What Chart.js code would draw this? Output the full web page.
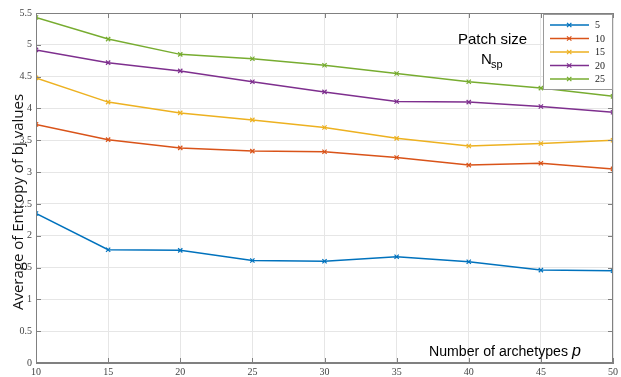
<!DOCTYPE html>
<html>
<head>
<meta charset="utf-8">
<script src="https://cdn.jsdelivr.net/npm/chart.js@4"></script>
<style>
  html, body { margin: 0; padding: 0; background: #fff; }
  #wrap { width: 621px; height: 377px; }
</style>
</head>
<body>
<div id="wrap"><canvas id="chartEntropy"></canvas></div>
<script>
// data
var archetypes = [10, 15, 20, 25, 30, 35, 40, 45, 50];
var patchSizes = ['5', '10', '15', '20', '25'];
var entropy5  = [2.35, 1.78, 1.77, 1.61, 1.60, 1.67, 1.59, 1.46, 1.45];
var entropy10 = [3.75, 3.51, 3.38, 3.33, 3.32, 3.23, 3.11, 3.14, 3.05];
var entropy15 = [4.48, 4.10, 3.93, 3.82, 3.70, 3.53, 3.41, 3.45, 3.50];
var entropy20 = [4.92, 4.72, 4.59, 4.42, 4.26, 4.11, 4.10, 4.03, 3.94];
var entropy25 = [5.43, 5.09, 4.85, 4.78, 4.68, 4.55, 4.42, 4.32, 4.19];
var lineColors = ['#0072BD', '#D95319', '#EDB120', '#7E2F8E', '#77AC30'];

var allSeries = [entropy5, entropy10, entropy15, entropy20, entropy25];

function toPoints(vals) {
    return vals.map(function (v, i) { return { x: archetypes[i], y: v }; });
}

var datasets = allSeries.map(function (vals, i) {
    return {
        label: patchSizes[i],
        data: toPoints(vals),
        borderColor: lineColors[i],
        backgroundColor: lineColors[i],
        borderWidth: 1.5,
        pointStyle: 'crossRot',
        pointRadius: 3,
        pointBorderWidth: 1.2,
        tension: 0
    };
});

// box, inward ticks, legend and labels drawn like the matlab figure
var figurePlugin = {
    id: 'figure',
    afterDatasetsDraw: function (chart) {
        var ctx = chart.ctx;
        var a = chart.chartArea;
        var xs = chart.scales.x, ys = chart.scales.y;
        ctx.save();

        // axes box
        ctx.strokeStyle = '#808080';
        ctx.lineWidth = 1;
        ctx.strokeRect(a.left + 0.5, a.top + 0.5, a.right - a.left - 1, a.bottom - a.top - 1);

        // inward tick marks
        ctx.beginPath();
        ys.ticks.forEach(function (t) {
            var py = Math.round(ys.getPixelForValue(t.value)) + 0.5;
            ctx.moveTo(a.left, py); ctx.lineTo(a.left + 5, py);
            ctx.moveTo(a.right, py); ctx.lineTo(a.right - 5, py);
        });
        xs.ticks.forEach(function (t) {
            var px = Math.round(xs.getPixelForValue(t.value)) + 0.5;
            ctx.moveTo(px, a.bottom); ctx.lineTo(px, a.bottom - 5);
            ctx.moveTo(px, a.top); ctx.lineTo(px, a.top + 5);
        });
        ctx.stroke();

        // legend box
        var lx = 543, ly = 14, lw = a.right - 543, lh = 76;
        ctx.fillStyle = '#fff';
        ctx.fillRect(lx, ly, lw, lh);
        ctx.strokeStyle = '#9a9a9a';
        ctx.strokeRect(lx + 0.5, ly + 0.5, lw - 1, lh - 1);
        ctx.font = '10px "Liberation Serif"';
        ctx.textBaseline = 'middle';
        ctx.textAlign = 'left';
        chart.data.datasets.forEach(function (ds, i) {
            var ry = 25 + i * 13.5;
            ctx.strokeStyle = ds.borderColor;
            ctx.lineWidth = 1.5;
            ctx.beginPath();
            ctx.moveTo(550, ry); ctx.lineTo(589, ry);
            ctx.stroke();
            ctx.lineWidth = 1.2;
            ctx.beginPath();
            ctx.moveTo(567, ry - 2.2); ctx.lineTo(571.4, ry + 2.2);
            ctx.moveTo(567, ry + 2.2); ctx.lineTo(571.4, ry - 2.2);
            ctx.stroke();
            ctx.fillStyle = '#222';
            ctx.fillText(ds.label, 595, ry + 0.5);
        });

        // annotation texts
        ctx.fillStyle = '#000';
        ctx.textBaseline = 'alphabetic';
        ctx.font = '15px "Liberation Sans"';
        ctx.textAlign = 'center';
        ctx.fillText('Patch size', 492.5, 44);
        ctx.textAlign = 'left';
        ctx.fillText('N', 481, 64);
        ctx.font = '11px "Liberation Sans"';
        ctx.fillText('sp', 491, 68);

        // x label inside the plot, a bit condensed
        ctx.font = '15.5px "Liberation Sans"';
        var txt = 'Number of archetypes';
        var w = ctx.measureText(txt).width;
        ctx.save();
        ctx.translate(429, 356);
        ctx.scale(139 / w, 1);
        ctx.fillText(txt, 0, 0);
        ctx.restore();
        ctx.font = 'italic 16px "Liberation Sans"';
        ctx.fillText('p', 572, 356);

        // y title
        ctx.font = '15px "Open Sans"';
        ctx.textAlign = 'center';
        ctx.textBaseline = 'middle';
        ctx.translate(19, 202);
        ctx.rotate(-Math.PI / 2);
        ctx.fillStyle = '#111';
        ctx.fillText('Average of Entropy of bj values', 0, 0);

        ctx.restore();
    }
};

var ctxEntropy = document.getElementById('chartEntropy').getContext('2d');
var chartEntropy = new Chart(ctxEntropy, {
    type: 'line',
    data: { datasets: datasets },
    options: {
        responsive: true,
        maintainAspectRatio: false,
        animation: false,
        layout: { padding: { top: 13, right: 7, left: 0, bottom: 0 } },
        plugins: {
            legend: { display: false },
            tooltip: { enabled: false }
        },
        scales: {
            x: {
                type: 'linear',
                min: 10, max: 50,
                afterFit: function (s) { s.height = 14; },
                ticks: {
                    stepSize: 5,
                    padding: 3,
                    color: '#444',
                    font: { family: 'Liberation Serif', size: 10 }
                },
                grid: { color: '#e6e6e6', drawTicks: false },
                border: { color: '#808080' }
            },
            y: {
                min: 0, max: 5.5,
                afterFit: function (s) { s.width = 36; },
                ticks: {
                    stepSize: 0.5,
                    padding: 4,
                    color: '#444',
                    font: { family: 'Liberation Serif', size: 10 },
                    callback: function (v) { return String(Math.round(v * 10) / 10); }
                },
                grid: { color: '#e6e6e6', drawTicks: false },
                border: { color: '#808080' }
            }
        }
    },
    plugins: [figurePlugin]
});
</script>
</body>
</html>
